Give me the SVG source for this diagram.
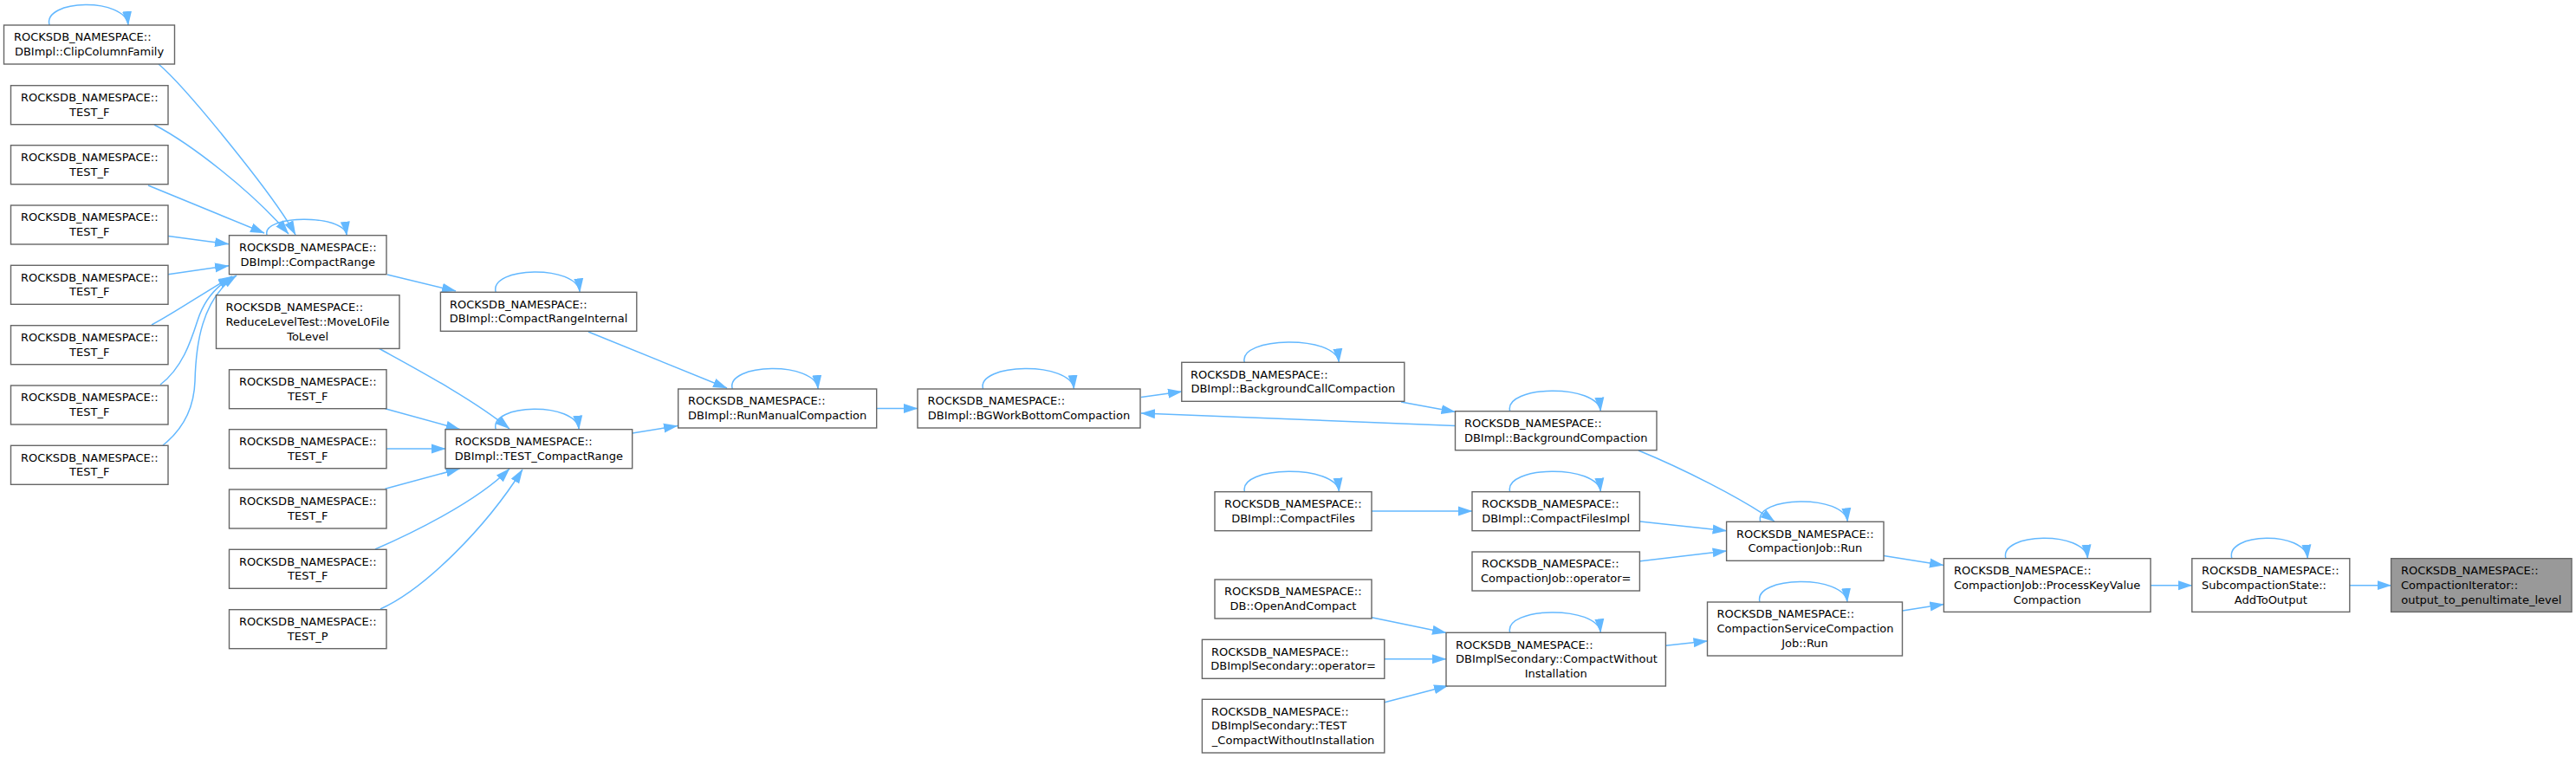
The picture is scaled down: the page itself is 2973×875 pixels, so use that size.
<svg xmlns="http://www.w3.org/2000/svg" width="2973" height="875" viewBox="0 0 2973 875">
<style>
.node rect{fill:#ffffff;stroke:#666666;stroke-width:1.4}
.node.root rect{fill:#999999}
.node text{font-family:"DejaVu Sans",sans-serif;font-size:13px;fill:#000000}
.edges path{fill:none;stroke:#63b8ff;stroke-width:1.5;marker-end:url(#arr)}
</style>
<defs>
<marker id="arr" markerUnits="userSpaceOnUse" markerWidth="17" markerHeight="12" viewBox="0 0 17 12" refX="16" refY="6" orient="auto"><path d="M0,0.5 L16.5,6 L0,11.5 Z" fill="#63b8ff"/></marker>
</defs>
<rect x="0" y="0" width="2973" height="875" fill="#ffffff"/>
<g class="edges">
<!-- self loops -->
<path d="M57,29 C49,-1 145,-3.4 148,29"/>
<path d="M308.2,271.7 C300.2,248 397.2,246 400.2,271.7"/>
<path d="M572.2,337.3 C564.2,307.3 666.2,304.9 669.2,337.3"/>
<path d="M572.2,495.7 C564.2,465.7 665.2,463.3 668.2,495.7"/>
<path d="M845.2,449 C837.2,419 941.2,416.6 944.2,449"/>
<path d="M1134.5,449 C1126.5,419 1236.5,416.6 1239.5,449"/>
<path d="M1436.3,418.3 C1428.3,388.3 1542.3,385.9 1545.3,418.3"/>
<path d="M1436.5,567.7 C1428.5,537.7 1542.5,535.3 1545.5,567.7"/>
<path d="M1742.7,474.7 C1734.7,444.7 1844.3,442.3 1847.3,474.7"/>
<path d="M1742.7,567.7 C1734.7,537.7 1844.3,535.3 1847.3,567.7"/>
<path d="M1742.7,730.3 C1734.7,700.3 1844.3,697.9 1847.3,730.3"/>
<path d="M2031.7,602.3 C2023.7,572.3 2129.3,569.9 2132.3,602.3"/>
<path d="M2031,695 C2023,665 2129,662.6 2132,695"/>
<path d="M2314.9,644.7 C2306.9,614.7 2406.5,612.3 2409.5,644.7"/>
<path d="M2575.8,644.7 C2567.8,614.7 2660.4,612.3 2663.4,644.7"/>
<!-- into CompactRange -->
<path d="M183,74 C215,101 318,228 341,271"/>
<path d="M178,144 C220,166 290,220 333,270"/>
<path d="M171,214 L305,269"/>
<path d="M194,272.5 L264,281.7"/>
<path d="M194,316.7 L264,306.7"/>
<path d="M175,375 C200,362 235,338 268,319"/>
<path d="M185,444 C210,425 220,395 228,370 C236,345 250,330 268,320"/>
<path d="M188,514 C212,495 224,470 225,440 C226,400 232,345 273,318"/>
<!-- CompactRange chain -->
<path d="M447,317 L526,336"/>
<path d="M679,383 L839,448"/>
<!-- into TEST_CompactRange -->
<path d="M437,402 C475,423 545,460 588,495"/>
<path d="M444.5,471.7 L530.6,495.5"/>
<path d="M446,518 L514,518"/>
<path d="M444.5,564.3 L530.6,541"/>
<path d="M433,634 C470,618 550,580 588,541"/>
<path d="M439,703 C490,680 560,610 603,542"/>
<path d="M730,500 L782,491.5"/>
<!-- middle -->
<path d="M1012,471.5 L1059,471.5"/>
<path d="M1317,458.5 L1364,452"/>
<path d="M1617,464 L1679.5,475.5"/>
<path d="M1679.5,491.5 L1317,477"/>
<path d="M1891,520 C1940,540 2010,575 2048,602"/>
<path d="M1583,590 L1699,590"/>
<path d="M1893,602 L1992.6,612.7"/>
<path d="M1893,647.7 L1992.6,636"/>
<path d="M2174,641.5 L2243,652.5"/>
<path d="M2195.6,705 L2243.4,697.5"/>
<path d="M1583,712.7 L1669,730.5"/>
<path d="M1598,760.7 L1669,760.7"/>
<path d="M1598,810.7 L1671,791.7"/>
<path d="M1922.4,745.3 L1970.5,740"/>
<path d="M2482,675.7 L2529.8,675.7"/>
<path d="M2711.7,675.7 L2759.6,675.7"/>
</g>
<g id="n1" class="node"><rect x="4.5" y="29" width="197" height="45"/><text><tspan x="16" y="47.3">ROCKSDB_NAMESPACE::</tspan><tspan x="103" y="64.1" text-anchor="middle">DBImpl::ClipColumnFamily</tspan></text></g>
<g id="n2" class="node"><rect x="12.5" y="98.7" width="181.5" height="45"/><text><tspan x="24" y="117">ROCKSDB_NAMESPACE::</tspan><tspan x="103.2" y="133.8" text-anchor="middle">TEST_F</tspan></text></g>
<g id="n3" class="node"><rect x="12.5" y="167.7" width="181.5" height="45"/><text><tspan x="24" y="186">ROCKSDB_NAMESPACE::</tspan><tspan x="103.2" y="202.8" text-anchor="middle">TEST_F</tspan></text></g>
<g id="n4" class="node"><rect x="12.5" y="237" width="181.5" height="45"/><text><tspan x="24" y="255.3">ROCKSDB_NAMESPACE::</tspan><tspan x="103.2" y="272.1" text-anchor="middle">TEST_F</tspan></text></g>
<g id="n5" class="node"><rect x="12.5" y="306.3" width="181.5" height="45"/><text><tspan x="24" y="324.6">ROCKSDB_NAMESPACE::</tspan><tspan x="103.2" y="341.4" text-anchor="middle">TEST_F</tspan></text></g>
<g id="n6" class="node"><rect x="12.5" y="375.7" width="181.5" height="45"/><text><tspan x="24" y="394">ROCKSDB_NAMESPACE::</tspan><tspan x="103.2" y="410.8" text-anchor="middle">TEST_F</tspan></text></g>
<g id="n7" class="node"><rect x="12.5" y="445" width="181.5" height="45"/><text><tspan x="24" y="463.3">ROCKSDB_NAMESPACE::</tspan><tspan x="103.2" y="480.1" text-anchor="middle">TEST_F</tspan></text></g>
<g id="n8" class="node"><rect x="12.5" y="514.3" width="181.5" height="45"/><text><tspan x="24" y="532.6">ROCKSDB_NAMESPACE::</tspan><tspan x="103.2" y="549.4" text-anchor="middle">TEST_F</tspan></text></g>
<g id="n9" class="node"><rect x="264.5" y="271.7" width="181.5" height="45"/><text><tspan x="276" y="290">ROCKSDB_NAMESPACE::</tspan><tspan x="355.2" y="306.8" text-anchor="middle">DBImpl::CompactRange</tspan></text></g>
<g id="n10" class="node"><rect x="249.5" y="340.7" width="211.5" height="61.7"/><text><tspan x="260.5" y="358.9">ROCKSDB_NAMESPACE::</tspan><tspan x="260.5" y="375.7">ReduceLevelTest::MoveL0File</tspan><tspan x="355.2" y="392.5" text-anchor="middle">ToLevel</tspan></text></g>
<g id="n11" class="node"><rect x="264.5" y="426.7" width="181.5" height="45"/><text><tspan x="276" y="445">ROCKSDB_NAMESPACE::</tspan><tspan x="355.2" y="461.8" text-anchor="middle">TEST_F</tspan></text></g>
<g id="n12" class="node"><rect x="264.5" y="495.7" width="181.5" height="45"/><text><tspan x="276" y="514">ROCKSDB_NAMESPACE::</tspan><tspan x="355.2" y="530.8" text-anchor="middle">TEST_F</tspan></text></g>
<g id="n13" class="node"><rect x="264.5" y="565" width="181.5" height="45"/><text><tspan x="276" y="583.3">ROCKSDB_NAMESPACE::</tspan><tspan x="355.2" y="600.1" text-anchor="middle">TEST_F</tspan></text></g>
<g id="n14" class="node"><rect x="264.5" y="634.3" width="181.5" height="45"/><text><tspan x="276" y="652.6">ROCKSDB_NAMESPACE::</tspan><tspan x="355.2" y="669.4" text-anchor="middle">TEST_F</tspan></text></g>
<g id="n15" class="node"><rect x="264.5" y="703.7" width="181.5" height="45"/><text><tspan x="276" y="722">ROCKSDB_NAMESPACE::</tspan><tspan x="355.2" y="738.8" text-anchor="middle">TEST_P</tspan></text></g>
<g id="n16" class="node"><rect x="508.4" y="337.3" width="226.4" height="45"/><text><tspan x="519" y="355.6">ROCKSDB_NAMESPACE::</tspan><tspan x="621.6" y="372.4" text-anchor="middle">DBImpl::CompactRangeInternal</tspan></text></g>
<g id="n17" class="node"><rect x="514" y="495.7" width="215.7" height="45"/><text><tspan x="525" y="514">ROCKSDB_NAMESPACE::</tspan><tspan x="621.9" y="530.8" text-anchor="middle">DBImpl::TEST_CompactRange</tspan></text></g>
<g id="n18" class="node"><rect x="782.7" y="449" width="229" height="45"/><text><tspan x="794" y="467.3">ROCKSDB_NAMESPACE::</tspan><tspan x="897.2" y="484.1" text-anchor="middle">DBImpl::RunManualCompaction</tspan></text></g>
<g id="n19" class="node"><rect x="1059" y="449" width="257" height="45"/><text><tspan x="1070.5" y="467.3">ROCKSDB_NAMESPACE::</tspan><tspan x="1187.5" y="484.1" text-anchor="middle">DBImpl::BGWorkBottomCompaction</tspan></text></g>
<g id="n20" class="node"><rect x="1363.8" y="418.3" width="257" height="45"/><text><tspan x="1374" y="436.6">ROCKSDB_NAMESPACE::</tspan><tspan x="1492.3" y="453.4" text-anchor="middle">DBImpl::BackgroundCallCompaction</tspan></text></g>
<g id="n21" class="node"><rect x="1679.5" y="474.7" width="232.5" height="45"/><text><tspan x="1690" y="493">ROCKSDB_NAMESPACE::</tspan><tspan x="1795.7" y="509.8" text-anchor="middle">DBImpl::BackgroundCompaction</tspan></text></g>
<g id="n22" class="node"><rect x="1402" y="567.7" width="181" height="45"/><text><tspan x="1413" y="586">ROCKSDB_NAMESPACE::</tspan><tspan x="1492.5" y="602.8" text-anchor="middle">DBImpl::CompactFiles</tspan></text></g>
<g id="n23" class="node"><rect x="1402" y="669" width="181" height="45"/><text><tspan x="1413" y="687.3">ROCKSDB_NAMESPACE::</tspan><tspan x="1492.5" y="704.1" text-anchor="middle">DB::OpenAndCompact</tspan></text></g>
<g id="n24" class="node"><rect x="1387.4" y="738.3" width="210.4" height="45"/><text><tspan x="1398" y="756.6">ROCKSDB_NAMESPACE::</tspan><tspan x="1492.6" y="773.4" text-anchor="middle">DBImplSecondary::operator=</tspan></text></g>
<g id="n25" class="node"><rect x="1387.4" y="807.3" width="210.4" height="61.7"/><text><tspan x="1398" y="825.5">ROCKSDB_NAMESPACE::</tspan><tspan x="1398" y="842.3">DBImplSecondary::TEST</tspan><tspan x="1492.6" y="859.1" text-anchor="middle">_CompactWithoutInstallation</tspan></text></g>
<g id="n26" class="node"><rect x="1699" y="567.7" width="193.4" height="45"/><text><tspan x="1710" y="586">ROCKSDB_NAMESPACE::</tspan><tspan x="1795.7" y="602.8" text-anchor="middle">DBImpl::CompactFilesImpl</tspan></text></g>
<g id="n27" class="node"><rect x="1699" y="637" width="193.4" height="45"/><text><tspan x="1710" y="655.3">ROCKSDB_NAMESPACE::</tspan><tspan x="1795.7" y="672.1" text-anchor="middle">CompactionJob::operator=</tspan></text></g>
<g id="n28" class="node"><rect x="1669" y="730.3" width="253.4" height="61.7"/><text><tspan x="1680" y="748.5">ROCKSDB_NAMESPACE::</tspan><tspan x="1680" y="765.3">DBImplSecondary::CompactWithout</tspan><tspan x="1795.7" y="782.1" text-anchor="middle">Installation</tspan></text></g>
<g id="n29" class="node"><rect x="1992.6" y="602.3" width="181.4" height="45"/><text><tspan x="2004" y="620.6">ROCKSDB_NAMESPACE::</tspan><tspan x="2083.3" y="637.4" text-anchor="middle">CompactionJob::Run</tspan></text></g>
<g id="n30" class="node"><rect x="1970.5" y="695" width="225" height="62"/><text><tspan x="1981.5" y="713.3">ROCKSDB_NAMESPACE::</tspan><tspan x="1981.5" y="730.1">CompactionServiceCompaction</tspan><tspan x="2083" y="746.9" text-anchor="middle">Job::Run</tspan></text></g>
<g id="n31" class="node"><rect x="2243.4" y="644.7" width="238.6" height="61.7"/><text><tspan x="2255" y="662.9">ROCKSDB_NAMESPACE::</tspan><tspan x="2255" y="679.7">CompactionJob::ProcessKeyValue</tspan><tspan x="2362.7" y="696.5" text-anchor="middle">Compaction</tspan></text></g>
<g id="n32" class="node"><rect x="2529.8" y="644.7" width="182" height="61.7"/><text><tspan x="2541" y="662.9">ROCKSDB_NAMESPACE::</tspan><tspan x="2541" y="679.7">SubcompactionState::</tspan><tspan x="2620.8" y="696.5" text-anchor="middle">AddToOutput</tspan></text></g>
<g id="n33" class="node root"><rect x="2759.6" y="644.7" width="208.4" height="61.7"/><text><tspan x="2771" y="662.9">ROCKSDB_NAMESPACE::</tspan><tspan x="2771" y="679.7">CompactionIterator::</tspan><tspan x="2863.8" y="696.5" text-anchor="middle">output_to_penultimate_level</tspan></text></g>
</svg>
